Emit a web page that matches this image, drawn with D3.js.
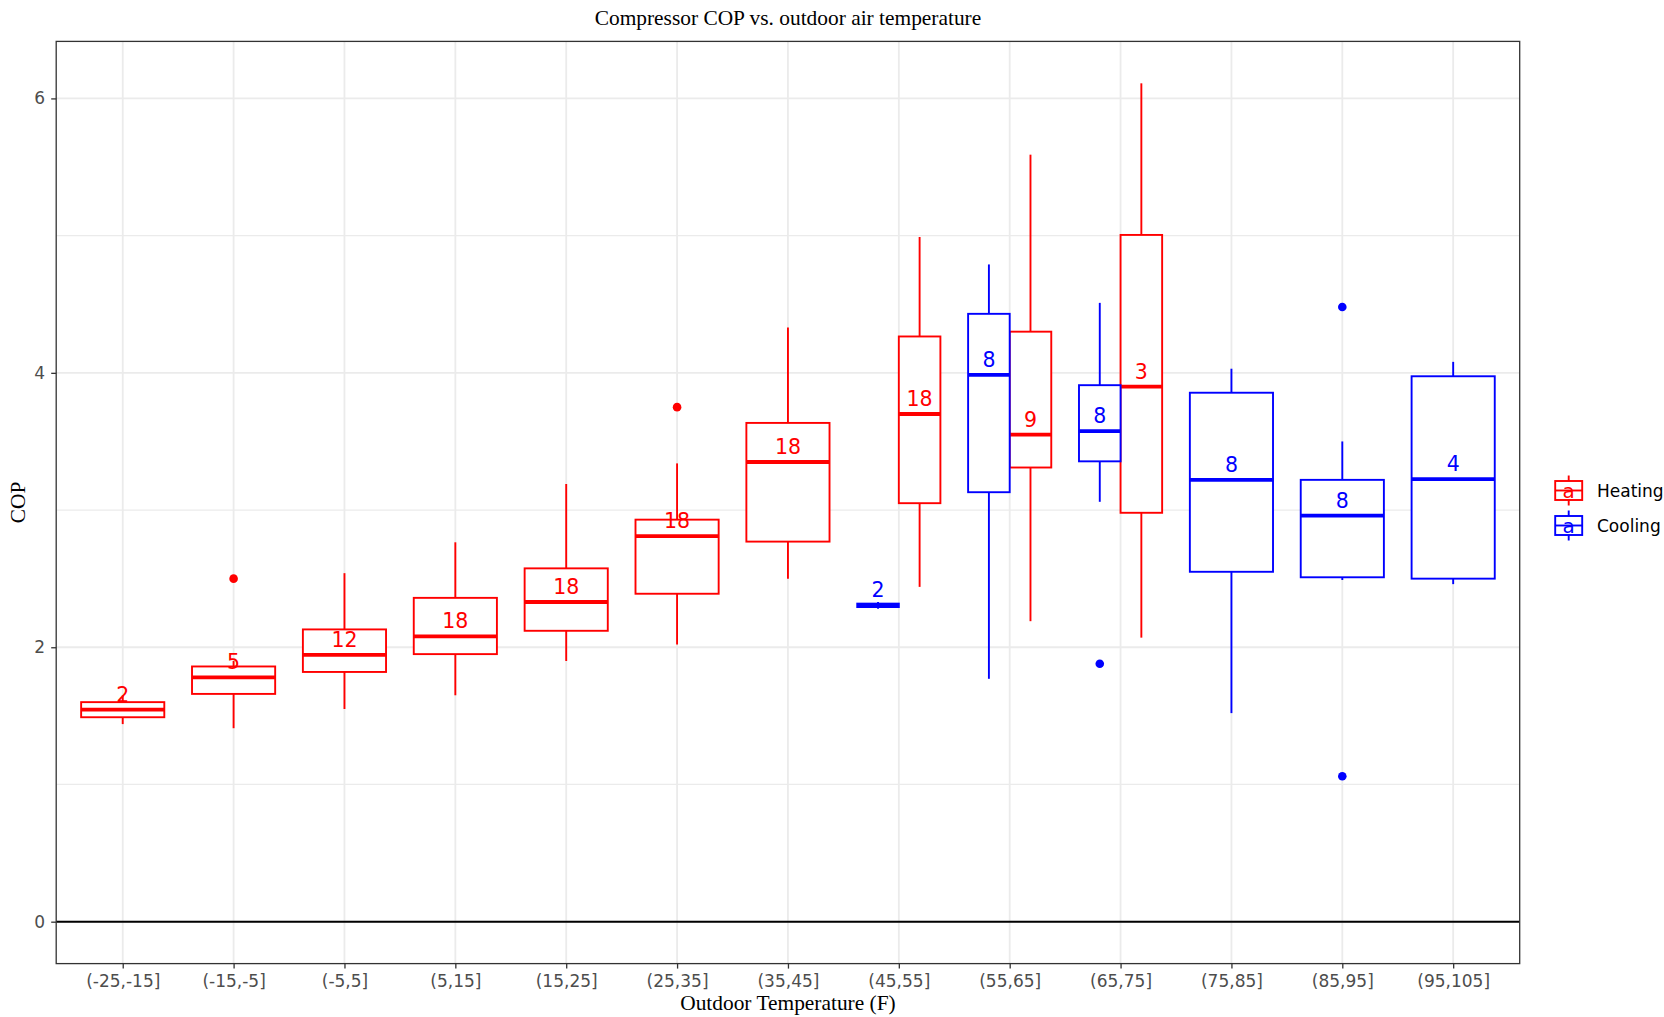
<!DOCTYPE html>
<html>
<head>
<meta charset="utf-8">
<script src="https://cdn.jsdelivr.net/npm/d3@7"></script>
<style>
  html, body { margin: 0; padding: 0; background: #ffffff; }
  svg { display: block; }
</style>
</head>
<body>
<svg id="chart" width="1664" height="1017"></svg>
<script>
// ---------------- DATA ----------------
const categories = ["(-25,-15]", "(-15,-5]", "(-5,5]", "(5,15]", "(15,25]", "(25,35]", "(35,45]",
                    "(45,55]", "(55,65]", "(65,75]", "(75,85]", "(85,95]", "(95,105]"];
const groups = ["Cooling", "Heating"];            // dodge order (left to right)
const legendGroups = ["Heating", "Cooling"];
const groupColors = ["#FF0000", "#0000FF"];        // Heating, Cooling

// Heating boxes
const heatCats = ["(-25,-15]", "(-15,-5]", "(-5,5]", "(5,15]", "(15,25]", "(25,35]", "(35,45]", "(45,55]", "(55,65]", "(65,75]"];
const heatLow  = [1.44, 1.41, 1.55, 1.65, 1.90, 2.02, 2.50, 2.44, 2.19, 2.07];
const heatQ1   = [1.49, 1.66, 1.82, 1.95, 2.12, 2.39, 2.77, 3.05, 3.31, 2.98];
const heatMed  = [1.545, 1.78, 1.945, 2.08, 2.33, 2.81, 3.35, 3.70, 3.55, 3.90];
const heatQ3   = [1.60, 1.86, 2.13, 2.36, 2.575, 2.93, 3.635, 4.265, 4.30, 5.005];
const heatHigh = [1.65, 1.90, 2.54, 2.765, 3.19, 3.34, 4.33, 4.99, 5.59, 6.11];
const heatN    = [2, 5, 12, 18, 18, 18, 18, 18, 9, 3];
const heatOutCats = ["(-15,-5]", "(25,35]"];
const heatOutVals = [2.50, 3.75];

// Cooling boxes
const coolCats = ["(45,55]", "(55,65]", "(65,75]", "(75,85]", "(85,95]", "(95,105]"];
const coolLow  = [2.28, 1.77, 3.06, 1.52, 2.49, 2.46];
const coolQ1   = [2.293, 3.13, 3.355, 2.55, 2.51, 2.50];
const coolMed  = [2.305, 3.985, 3.575, 3.22, 2.96, 3.225];
const coolQ3   = [2.318, 4.43, 3.91, 3.855, 3.22, 3.975];
const coolHigh = [2.33, 4.79, 4.51, 4.03, 3.50, 4.08];
const coolN    = [2, 8, 8, 8, 8, 4];
const coolOutCats = ["(65,75]", "(85,95]", "(85,95]"];
const coolOutVals = [1.88, 4.48, 1.06];

const yMajor = [0, 2, 4, 6];
const yMinor = [1, 3, 5];

const titleText = "Compressor COP vs. outdoor air temperature";
const xTitle = "Outdoor Temperature (F)";
const yTitle = "COP";

// ---------------- BUILD ----------------
function build(cats, low, q1, med, q3, high, n, group) {
  return cats.map((c, i) => ({ cat: c, low: low[i], q1: q1[i], med: med[i], q3: q3[i], high: high[i], n: n[i], group }));
}
const boxes = build(heatCats, heatLow, heatQ1, heatMed, heatQ3, heatHigh, heatN, "Heating")
  .concat(build(coolCats, coolLow, coolQ1, coolMed, coolQ3, coolHigh, coolN, "Cooling"));
const outliers = heatOutCats.map((c, i) => ({ cat: c, v: heatOutVals[i], group: "Heating" }))
  .concat(coolOutCats.map((c, i) => ({ cat: c, v: coolOutVals[i], group: "Cooling" })));

const color = d3.scaleOrdinal().domain(legendGroups).range(groupColors);

const W = 1664, H = 1017;
const panel = { left: 56.2, right: 1519.7, top: 41.4, bottom: 963.6 };

const x = d3.scalePoint().domain(categories).range([panel.left, panel.right]).padding(0.6);
const step = x.step();
const yMaxData = d3.max(boxes, d => d.high);
const yMinData = 0;
const pad = (yMaxData - yMinData) * 0.05;
const y = d3.scaleLinear().domain([yMinData - pad, yMaxData + pad]).range([panel.bottom, panel.top]);

// dodge: how many groups per category
const groupsIn = {};
boxes.forEach(b => { (groupsIn[b.cat] = groupsIn[b.cat] || []).push(b.group); });
function boxGeom(cat, group) {
  const gs = groups.filter(g => groupsIn[cat] && groupsIn[cat].includes(g));
  const full = step * 0.75;
  const w = full / gs.length;
  const idx = gs.indexOf(group);
  const cx = x(cat) - full / 2 + w * (idx + 0.5);
  return { cx, w };
}

const svg = d3.select("#chart");
svg.append("rect").attr("width", W).attr("height", H).attr("fill", "#ffffff");

const grid = svg.append("g");
grid.selectAll("line.minor").data(yMinor).join("line")
  .attr("x1", panel.left).attr("x2", panel.right)
  .attr("y1", d => y(d)).attr("y2", d => y(d))
  .attr("stroke", "#EBEBEB").attr("stroke-width", 1.2);
grid.selectAll("line.majory").data(yMajor).join("line")
  .attr("x1", panel.left).attr("x2", panel.right)
  .attr("y1", d => y(d)).attr("y2", d => y(d))
  .attr("stroke", "#EBEBEB").attr("stroke-width", 1.8);
grid.selectAll("line.majorx").data(categories).join("line")
  .attr("x1", d => x(d)).attr("x2", d => x(d))
  .attr("y1", panel.top).attr("y2", panel.bottom)
  .attr("stroke", "#EBEBEB").attr("stroke-width", 1.8);

// hline at 0
svg.append("line")
  .attr("x1", panel.left).attr("x2", panel.right)
  .attr("y1", y(0)).attr("y2", y(0))
  .attr("stroke", "#000000").attr("stroke-width", 2);

// boxes
const bw = 1.9;
const gBox = svg.append("g");
boxes.forEach(b => {
  const { cx, w } = boxGeom(b.cat, b.group);
  const col = color(b.group);
  const g = gBox.append("g");
  g.append("line").attr("x1", cx).attr("x2", cx).attr("y1", y(b.high)).attr("y2", y(b.q3))
    .attr("stroke", col).attr("stroke-width", bw);
  g.append("line").attr("x1", cx).attr("x2", cx).attr("y1", y(b.q1)).attr("y2", y(b.low))
    .attr("stroke", col).attr("stroke-width", bw);
  g.append("rect").attr("x", cx - w / 2).attr("width", w)
    .attr("y", y(b.q3)).attr("height", Math.max(0.1, y(b.q1) - y(b.q3)))
    .attr("fill", "#ffffff").attr("stroke", col).attr("stroke-width", bw);
  g.append("line").attr("x1", cx - w / 2).attr("x2", cx + w / 2).attr("y1", y(b.med)).attr("y2", y(b.med))
    .attr("stroke", col).attr("stroke-width", bw * 2);
});

// outliers
svg.append("g").selectAll("circle").data(outliers).join("circle")
  .attr("cx", d => boxGeom(d.cat, d.group).cx)
  .attr("cy", d => y(d.v))
  .attr("r", 4.3)
  .attr("fill", d => color(d.group));

// count labels
svg.append("g").selectAll("text").data(boxes).join("text")
  .attr("x", d => boxGeom(d.cat, d.group).cx)
  .attr("y", d => y(d.med) - 8)
  .attr("text-anchor", "middle")
  .attr("font-family", "DejaVu Sans")
  .attr("font-size", 20.5)
  .attr("fill", d => color(d.group))
  .text(d => d.n);

// panel border
svg.append("rect")
  .attr("x", panel.left).attr("y", panel.top)
  .attr("width", panel.right - panel.left).attr("height", panel.bottom - panel.top)
  .attr("fill", "none").attr("stroke", "#333333").attr("stroke-width", 1.3);

// axes
const xAxis = svg.append("g").attr("transform", `translate(0,${panel.bottom})`)
  .call(d3.axisBottom(x).tickSize(5).tickPadding(6));
xAxis.select(".domain").remove();
xAxis.selectAll(".tick line").attr("stroke", "#333333").attr("stroke-width", 1.3);
xAxis.selectAll(".tick text").attr("font-family", "DejaVu Sans").attr("font-size", 17).attr("fill", "#4D4D4D");

const yAxis = svg.append("g").attr("transform", `translate(${panel.left},0)`)
  .call(d3.axisLeft(y).tickValues(yMajor).tickFormat(d3.format("d")).tickSize(5).tickPadding(6));
yAxis.select(".domain").remove();
yAxis.selectAll(".tick line").attr("stroke", "#333333").attr("stroke-width", 1.3);
yAxis.selectAll(".tick text").attr("font-family", "DejaVu Sans").attr("font-size", 17).attr("fill", "#4D4D4D");

// titles
const cxPanel = (panel.left + panel.right) / 2;
svg.append("text").attr("x", cxPanel).attr("y", 24.5).attr("text-anchor", "middle")
  .attr("font-family", "Liberation Serif").attr("font-size", 21.4).attr("fill", "#000")
  .text(titleText);
svg.append("text").attr("x", cxPanel).attr("y", 1009.5).attr("text-anchor", "middle")
  .attr("font-family", "Liberation Serif").attr("font-size", 21.4).attr("fill", "#000")
  .text(xTitle);
svg.append("text").attr("transform", `translate(25,${(panel.top + panel.bottom) / 2}) rotate(-90)`)
  .attr("text-anchor", "middle")
  .attr("font-family", "Liberation Serif").attr("font-size", 21.4).attr("fill", "#000")
  .text(yTitle);

// legend
const leg = svg.append("g");
const keyX = 1568.7, keyW = 27, keyTop = 490.5, keyStep = 35;
legendGroups.forEach((gname, i) => {
  const cy = keyTop + i * keyStep;
  const col = color(gname);
  const g = leg.append("g");
  g.append("line").attr("x1", keyX).attr("x2", keyX).attr("y1", cy - 15).attr("y2", cy + 15)
    .attr("stroke", col).attr("stroke-width", bw);
  g.append("rect").attr("x", keyX - keyW / 2).attr("width", keyW).attr("y", cy - 9.5).attr("height", 19)
    .attr("fill", "#ffffff").attr("stroke", col).attr("stroke-width", bw);
  g.append("line").attr("x1", keyX - keyW / 2).attr("x2", keyX + keyW / 2).attr("y1", cy).attr("y2", cy)
    .attr("stroke", col).attr("stroke-width", bw);
  g.append("text").attr("x", keyX).attr("y", cy + 7).attr("text-anchor", "middle")
    .attr("font-family", "DejaVu Sans").attr("font-size", 20).attr("fill", col).text("a");
  g.append("text").attr("x", 1597).attr("y", cy + 6.5)
    .attr("font-family", "DejaVu Sans").attr("font-size", 17).attr("fill", "#000").text(gname);
});
</script>
</body>
</html>
